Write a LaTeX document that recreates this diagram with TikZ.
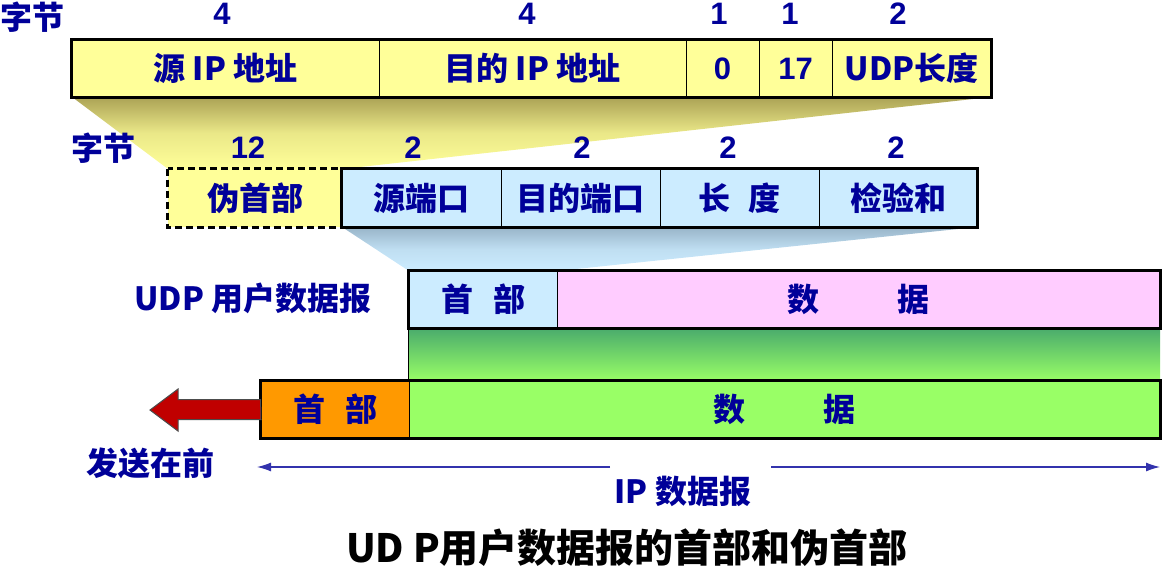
\documentclass[tikz,border=0pt]{standalone}
\usepackage{fontspec}
\usetikzlibrary{arrows.meta}
\setmainfont{Noto Sans CJK SC}
\newfontfamily\latin{Liberation Sans}
\definecolor{navy}{HTML}{000099}
\definecolor{ipyellow}{HTML}{FFFF99}
\definecolor{olivefade}{HTML}{ABA255}
\definecolor{udpblue}{HTML}{CCECFF}
\definecolor{bluefade}{HTML}{98B4C8}
\definecolor{datapink}{HTML}{FFCCFF}
\definecolor{datagreen}{HTML}{99FF66}
\definecolor{bandgreen}{HTML}{4DAE6C}
\definecolor{hdrorange}{HTML}{FF9900}
\definecolor{sendred}{HTML}{C00000}
\tikzset{
  txt/.style={text=navy,font=\fontsize{32}{35}\selectfont\bfseries},
  num/.style={text=navy,font=\latin\fontsize{31}{34}\selectfont\bfseries},
  cell/.style={txt,draw=black,line width=0.8pt,inner sep=0pt,minimum height=57pt},
  frame/.style={draw=black,line width=2.6pt}
}
\begin{document}
\begin{tikzpicture}[x=1pt,y=-1pt]
  \useasboundingbox (0,0) rectangle (1166,572);
  % shaded wedges
  \shade [top color=olivefade,bottom color=ipyellow,middle color=ipyellow!75!olivefade]
    (72,97) -- (991,97) -- (342,169) -- (168,169) -- cycle;
  \shade [top color=bluefade,bottom color=udpblue,middle color=udpblue!75!bluefade]
    (342,227) -- (977,227) -- (557,271) -- (409,271) -- cycle;
  \shade [top color=bandgreen,bottom color=datagreen] (409,330) rectangle (1160,381);
  % pseudo header fields
  \node [cell,fill=ipyellow,minimum width=307pt] (sip) at (225.5,68.5) {源 IP 地址};
  \node [cell,fill=ipyellow,minimum width=307pt] (dip) at (532.5,68.5) {目的 IP 地址};
  \node [cell,fill=ipyellow,minimum width=73pt,num] (zero) at (722.5,68.5) {0};
  \node [cell,fill=ipyellow,minimum width=73pt,num] (proto) at (795.5,68.5) {17};
  \node [cell,fill=ipyellow,minimum width=159pt] (ulen) at (911.5,68.5) {UDP长度};
  \draw [frame] (sip.north west) rectangle (ulen.south east);
  \node [txt] (bytesa) at (33,17) {字节};
  \node [num] (na) at (222,14) {4};
  \node [num] (nb) at (527,14) {4};
  \node [num] (nc) at (719,14) {1};
  \node [num] (nd) at (790,14) {1};
  \node [num] (ne) at (898,14) {2};
  % udp header fields
  \node [cell,fill=ipyellow,minimum width=174pt,minimum height=58pt,draw=none] (pseudo) at (255,198) {伪首部};
  \draw [black,line width=2.4pt,dash pattern=on 7pt off 4pt] (pseudo.north west) rectangle (pseudo.south east);
  \node [cell,fill=udpblue,minimum width=159pt,minimum height=58pt] (sport) at (421.5,198) {源端口};
  \node [cell,fill=udpblue,minimum width=159pt,minimum height=58pt] (dport) at (580.5,198) {目的端口};
  \node [cell,fill=udpblue,minimum width=159pt,minimum height=58pt] (ulenb) at (739.5,198) {长\hspace{18pt}度};
  \node [cell,fill=udpblue,minimum width=158pt,minimum height=58pt] (csum) at (898,198) {检验和};
  \draw [frame] (sport.north west) rectangle (csum.south east);
  \node [txt] (bytesb) at (103,148) {字节};
  \node [num] (nf) at (248,148) {12};
  \node [num] (ng) at (413,148) {2};
  \node [num] (nh) at (582,148) {2};
  \node [num] (ni) at (728,148) {2};
  \node [num] (nj) at (896,148) {2};
  % udp datagram
  \node [cell,fill=udpblue,minimum width=148pt] (uhdr) at (483,299.5) {首\hspace{20pt}部};
  \node [cell,fill=datapink,minimum width=603pt] (udata) at (858.5,299.5) {数\hspace{79pt}据};
  \draw [frame] (uhdr.north west) rectangle (udata.south east);
  \node [txt] (udplbl) at (253,298) {UDP 用户数据报};
  % ip datagram
  \node [cell,fill=hdrorange,minimum width=148pt] (iphdr) at (335,409.5) {首\hspace{20pt}部};
  \node [cell,fill=datagreen,minimum width=751pt] (ipdata) at (784.5,409.5) {数\hspace{79pt}据};
  \draw [frame] (iphdr.north west) rectangle (ipdata.south east);
  \draw [black,line width=0.8pt] (ipdata.north west) -- (uhdr.south west);
  % send first arrow
  \draw [black!70,line width=1pt,fill=sendred]
    (iphdr.west) ++(0,-10) -- (178,399.5) -- (178,389) -- (150,410) -- (178,431) -- (178,419.5) -- (261,419.5) -- cycle;
  \node [txt] (sendlbl) at (150,463) {发送在前};
  % ip datagram extent
  \node [txt] (iplbl) at (683,491) {IP 数据报};
  \coordinate (ipl) at (257,467);
  \coordinate (ipr) at (1160,467);
  \coordinate (ipml) at (610,467);
  \coordinate (ipmr) at (771,467);
  \draw [navy!80,line width=1.2pt,-{Latex[length=14pt,width=9pt]}] (ipml) -- (ipl);
  \draw [navy!80,line width=1.2pt,-{Latex[length=14pt,width=9pt]}] (ipmr) -- (ipr);
  \node [font=\fontsize{39}{43}\selectfont\bfseries] (title) at (627,548) {UD P用户数据报的首部和伪首部};
\end{tikzpicture}
\end{document}
